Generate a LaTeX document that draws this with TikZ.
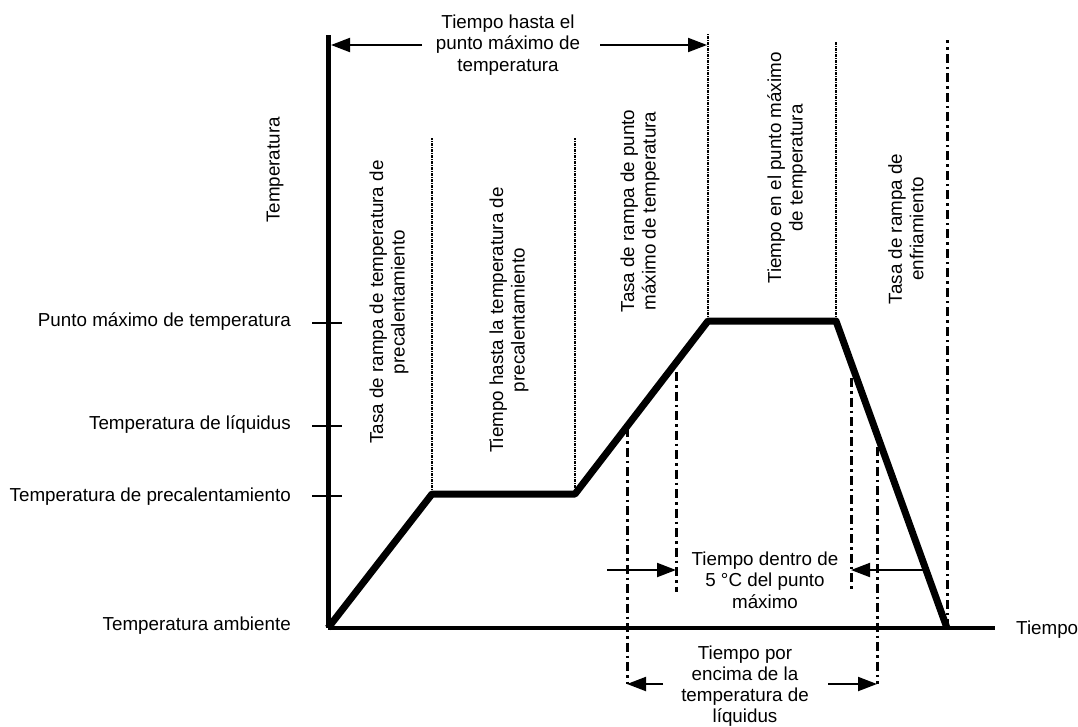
\documentclass[tikz,border=0pt]{standalone}
\usepackage{fontspec}
\setmainfont{Liberation Sans}
\usetikzlibrary{arrows.meta}
\begin{document}
\begin{tikzpicture}[x=1pt,y=-1pt,
  lbl/.style={font=\fontsize{18.8}{21.5}\selectfont, inner sep=0pt, align=center},
  vlbl/.style={lbl, rotate=90},
  axisline/.style={line width=5pt},
  xaxisline/.style={line width=3.5pt},
  profile/.style={line width=7pt, line join=round},
  tickline/.style={line width=1.6pt},
  fineline/.style={line width=1.6pt, dash pattern=on 3pt off 1pt on 1pt off 1pt},
  dashdot/.style={line width=3pt, dash pattern=on 9pt off 4pt on 2.5pt off 4pt},
  dimarrow/.style={line width=2pt, -{Triangle[length=19pt,width=14pt]}}
]
\useasboundingbox (0,0) rectangle (1078,726);

% profile points
\coordinate (O) at (328,628);
\coordinate (P1) at (432,494);
\coordinate (P2) at (575,494);
\coordinate (P3) at (708,321);
\coordinate (P4) at (836,321);
\coordinate (P5) at (947,628);
\coordinate (Ytop) at (328,35);
\coordinate (Xend) at (995,628);

% thin dotted verticals
\coordinate (T1) at (432,138);
\coordinate (T2) at (575,138);
\coordinate (T3) at (708,33);
\coordinate (T4) at (836,42);
\coordinate (T5) at (947,40);
\draw[fineline] (P1) -- (T1);
\draw[fineline] (P2) -- (T2);
\draw[fineline] (P3) -- (T3);
\draw[fineline] (P4) -- (T4);
\draw[dashdot] (P5) -- (T5);

% dash-dot dimension lines
\coordinate (A1) at (627,428); \coordinate (A1b) at (627,684);
\coordinate (A2) at (676,372); \coordinate (A2b) at (676,592);
\coordinate (A3) at (851,378); \coordinate (A3b) at (851,592);
\coordinate (A4) at (877,447); \coordinate (A4b) at (877,684);
\draw[dashdot] (A1) -- (A1b);
\draw[dashdot] (A2) -- (A2b);
\draw[dashdot] (A3) -- (A3b);
\draw[dashdot] (A4) -- (A4b);

% axes
\draw[axisline] (Ytop) -- (O);
\draw[xaxisline] (O) -- (Xend);

% ticks
\draw[tickline] (312,323) -- (342,323);
\draw[tickline] (312,426) -- (342,426);
\draw[tickline] (312,496) -- (342,496);

% profile
\draw[profile] (O) -- (P1) -- (P2) -- (P3) -- (P4) -- (P5);

% arrows
\coordinate (a1s) at (422,45); \coordinate (a1e) at (331,45);
\coordinate (a2s) at (600,45); \coordinate (a2e) at (707,45);
\draw[dimarrow] (a1s) -- (a1e);
\draw[dimarrow] (a2s) -- (a2e);
\coordinate (b1s) at (607,570); \coordinate (b1e) at (676,570);
\coordinate (b2s) at (926,570); \coordinate (b2e) at (851,570);
\draw[dimarrow] (b1s) -- (b1e);
\draw[dimarrow] (b2s) -- (b2e);
\coordinate (c1s) at (663,684); \coordinate (c1e) at (627,684);
\coordinate (c2s) at (828,684); \coordinate (c2e) at (877,684);
\draw[dimarrow] (c1s) -- (c1e);
\draw[dimarrow] (c2s) -- (c2e);

% labels
\node[lbl] (ttop) at (508,45) {Tiempo hasta el\\punto máximo de\\temperatura};
\node[lbl] (tmid) at (765,580) {Tiempo dentro de\\5 °C del punto\\máximo};
\node[lbl, font=\fontsize{18.8}{20.8}\selectfont] (tbot) at (745,686) {Tiempo por\\encima de la\\temperatura de\\líquidus};

\node[vlbl] (v1) at (389,302) {Tasa de rampa de temperatura de\\precalentamiento};
\node[vlbl] (v2) at (509,320) {Tiempo hasta la temperatura de\\precalentamiento};
\node[vlbl] (v3) at (640,211) {Tasa de rampa de punto\\máximo de temperatura};
\node[vlbl] (v4) at (787,168) {Tiempo en el punto máximo\\de temperatura};
\node[vlbl] (v5) at (906,229) {Tasa de rampa de\\enfriamiento};
\node[vlbl] (ylab) at (275,170) {Temperatura};

\node[lbl, anchor=east] (l1) at (291,322) {Punto máximo de temperatura};
\node[lbl, anchor=east] (l2) at (291,425) {Temperatura de líquidus};
\node[lbl, anchor=east] (l3) at (291,497) {Temperatura de precalentamiento};
\node[lbl, anchor=east] (l4) at (291,626) {Temperatura ambiente};
\node[lbl, anchor=west] (xlab) at (1016,630) {Tiempo};
\end{tikzpicture}
\end{document}
